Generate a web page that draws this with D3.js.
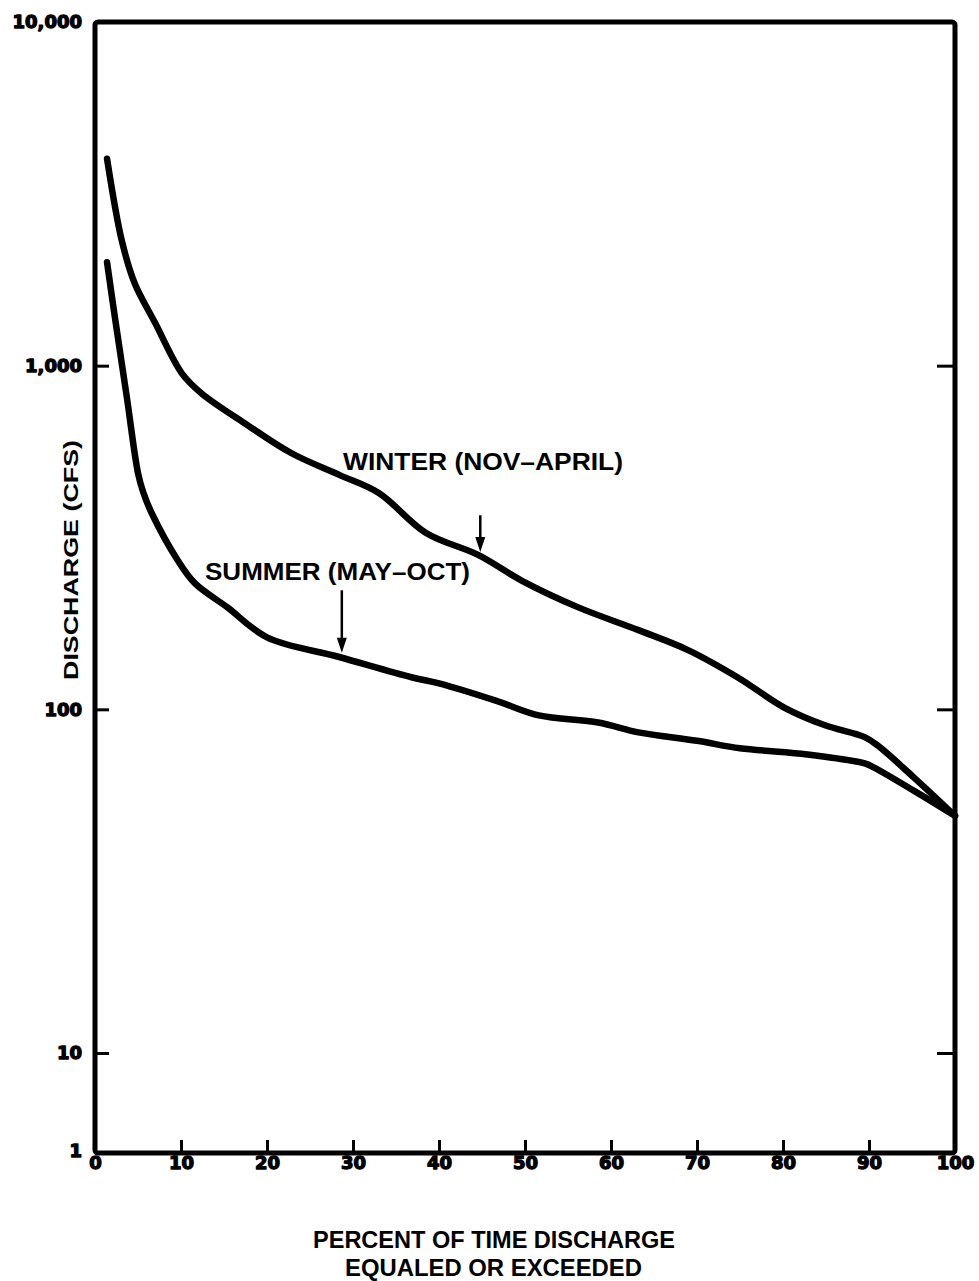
<!DOCTYPE html>
<html>
<head>
<meta charset="utf-8">
<script src="https://cdn.jsdelivr.net/npm/d3@7/dist/d3.min.js"></script>
<style>
  html, body { margin: 0; padding: 0; background: #fff; }
  svg { display: block; }
</style>
</head>
<body>
<script>
// ---- data ----
const percentWinter = [1.4, 3.1, 4.6, 7.0, 10.1, 12.4, 17.4, 22.8, 28.4, 33.0, 38.5, 44.6, 49.6, 56.2, 63.2, 68.9, 74.7, 80.2, 84.8, 89.5, 91.0, 95.2, 100];
const winterCfs     = [4000, 2320, 1740, 1330, 950, 830, 680, 557, 481, 426, 326, 281, 237, 198, 170, 149, 124, 101, 90, 83, 78.5, 63.4, 49];
const percentSummer = [1.4, 2.3, 3.7, 5.0, 5.6, 6.6, 9.6, 11.6, 15.4, 20.0, 28.4, 36.8, 40.0, 46.6, 51.6, 58.5, 63.2, 70.0, 75.0, 81.7, 89.5, 90.6, 95.2, 100];
const summerCfs     = [2000, 1390, 810, 487, 429, 372, 272, 233, 198, 162, 142, 124, 119, 106, 96, 91.6, 85.7, 81, 77, 74.4, 69.6, 67.7, 58, 49];
const xTicks = [0, 10, 20, 30, 40, 50, 60, 70, 80, 90, 100];
const xTickLabels = ["0", "10", "20", "30", "40", "50", "60", "70", "80", "90", "100"];
const yTicks = [1, 10, 100, 1000, 10000];
const yTickLabels = ["1", "10", "100", "1,000", "10,000"];
const rightTicks = [10, 100, 1000];
const seriesLabels = ["WINTER (NOV\u2013APRIL)", "SUMMER (MAY\u2013OCT)"];
const arrowPct = [44.8, 28.7];
const arrowFrom = [367, 222];
const arrowTo = [287, 146];
const xTitle = ["PERCENT OF TIME DISCHARGE", "EQUALED OR EXCEEDED"];
const yTitle = "DISCHARGE (CFS)";

// ---- layout ----
const W = 979, H = 1281;
const L = 95, R = 955, T = 22, B = 1153;

const svg = d3.select("body").append("svg").attr("width", W).attr("height", H);

const x = d3.scaleLinear().domain([0, 100]).range([L, R]);
// compressed bottom decade as in the original figure
const y = d3.scaleLog().domain([1, 10, 10000]).range([B, 1053, T]);

const tickFont = "'DejaVu Sans', sans-serif";
const textFont = "'Liberation Sans', Arial, sans-serif";

// frame
svg.append("rect")
  .attr("x", L).attr("y", T).attr("width", R - L).attr("height", B - T)
  .attr("fill", "none").attr("stroke", "#000").attr("stroke-width", 5)
  .attr("rx", 3);

function heavy(sel, size) {
  sel.attr("font-family", tickFont).attr("font-weight", "bold")
    .attr("font-size", size).attr("fill", "#000")
    .attr("stroke", "#000").attr("stroke-width", 1.3).attr("stroke-linejoin", "round");
}

// bottom axis
const gx = svg.append("g").attr("transform", `translate(0,${B})`)
  .call(d3.axisBottom(x).tickValues(xTicks).tickFormat((d, i) => xTickLabels[i])
    .tickSizeInner(-13).tickSizeOuter(0).tickPadding(3));
gx.select(".domain").remove();
gx.selectAll(".tick line").attr("stroke", "#000").attr("stroke-width", 3);
heavy(gx.selectAll(".tick text"), 18);

// left axis
const gy = svg.append("g").attr("transform", `translate(${L},0)`)
  .call(d3.axisLeft(y).tickValues(yTicks).tickFormat((d, i) => yTickLabels[i])
    .tickSizeInner(-14).tickSizeOuter(0).tickPadding(13));
gy.select(".domain").remove();
gy.selectAll(".tick line").attr("stroke", "#000").attr("stroke-width", 3);
heavy(gy.selectAll(".tick text"), 18);
gy.selectAll(".tick").filter(d => d === 1).select("text").attr("dy", "0.2em");

// right axis ticks
const gr = svg.append("g").attr("transform", `translate(${R},0)`)
  .call(d3.axisRight(y).tickValues(rightTicks).tickFormat(() => "")
    .tickSizeInner(-18).tickSizeOuter(0));
gr.select(".domain").remove();
gr.selectAll(".tick line").attr("stroke", "#000").attr("stroke-width", 3);

// curves
const line = d3.line().x(d => x(d[0])).y(d => y(d[1])).curve(d3.curveCatmullRom.alpha(0.5));
const winter = percentWinter.map((p, i) => [p, winterCfs[i]]);
const summer = percentSummer.map((p, i) => [p, summerCfs[i]]);
[winter, summer].forEach(s => {
  svg.append("path").datum(s).attr("d", line)
    .attr("fill", "none").attr("stroke", "#000").attr("stroke-width", 6.5)
    .attr("stroke-linecap", "round").attr("stroke-linejoin", "round");
});

// arrows
arrowPct.forEach((p, i) => {
  const tx = x(p), ty = y(arrowTo[i]);
  svg.append("line")
    .attr("x1", tx).attr("x2", tx)
    .attr("y1", y(arrowFrom[i])).attr("y2", ty - 6)
    .attr("stroke", "#000").attr("stroke-width", 2.5);
  svg.append("path").attr("d", `M${tx - 5},${ty - 15} L${tx},${ty} L${tx + 5},${ty - 15} Z`).attr("fill", "#000");
});

// series labels
svg.append("text").attr("x", 343).attr("y", 470).text(seriesLabels[0])
  .attr("font-family", textFont).attr("font-weight", "bold").attr("font-size", 23)
  .attr("textLength", 280).attr("lengthAdjust", "spacingAndGlyphs");
svg.append("text").attr("x", 205).attr("y", 580).text(seriesLabels[1])
  .attr("font-family", textFont).attr("font-weight", "bold").attr("font-size", 23)
  .attr("textLength", 265).attr("lengthAdjust", "spacingAndGlyphs");

// x title
svg.append("text").attr("x", 313).attr("y", 1248).text(xTitle[0])
  .attr("font-family", textFont).attr("font-weight", "bold").attr("font-size", 24)
  .attr("textLength", 362).attr("lengthAdjust", "spacingAndGlyphs");
svg.append("text").attr("x", 345).attr("y", 1276).text(xTitle[1])
  .attr("font-family", textFont).attr("font-weight", "bold").attr("font-size", 24)
  .attr("textLength", 297).attr("lengthAdjust", "spacingAndGlyphs");

// y title
svg.append("text").attr("transform", "translate(78,680) rotate(-90)").text(yTitle)
  .attr("font-family", textFont).attr("font-weight", "bold").attr("font-size", 20)
  .attr("textLength", 240).attr("lengthAdjust", "spacingAndGlyphs");
</script>
</body>
</html>
